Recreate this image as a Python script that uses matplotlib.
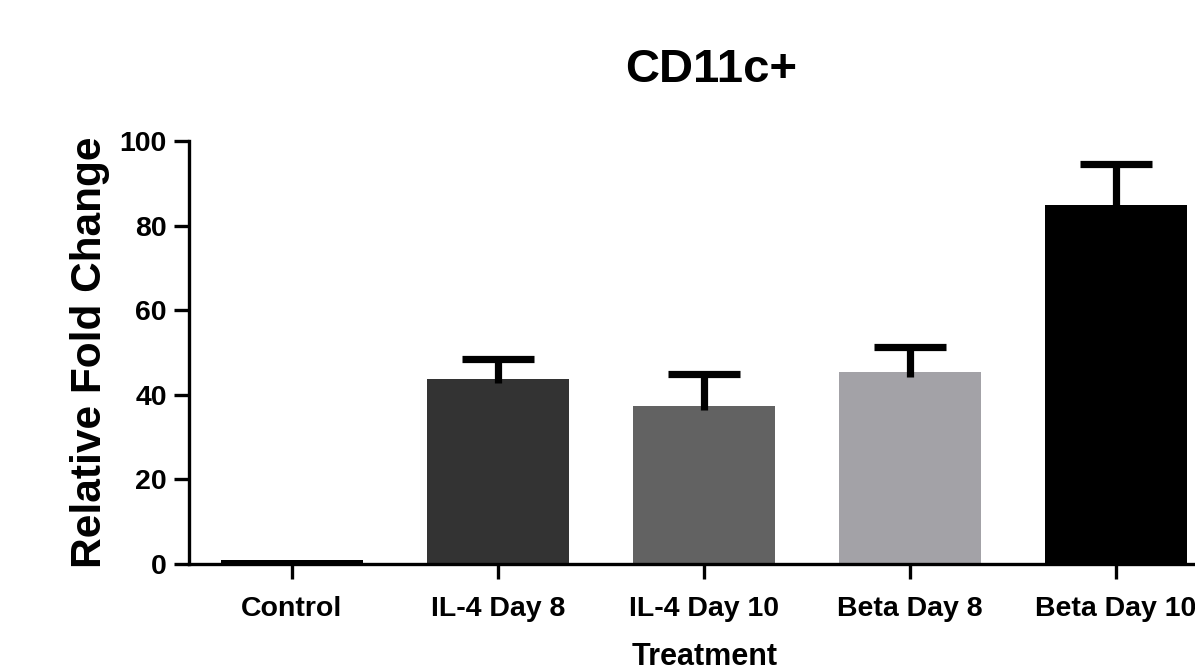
import matplotlib
matplotlib.use("Agg")
import matplotlib.pyplot as plt
import numpy as np

categories = ["Control", "IL-4 Day 8", "IL-4 Day 10", "Beta Day 8", "Beta Day 10"]
values = [1.0, 43.8, 37.4, 45.3, 84.9]
errors_upper = [0.0, 4.6, 7.4, 6.1, 9.6]
colors = ["#000000", "#333333", "#626262", "#a3a2a7", "#000000"]
yticks = [0, 20, 40, 60, 80, 100]

plt.rcParams['font.family'] = ['Liberation Sans', 'DejaVu Sans']

W, H = 1195, 671
fig = plt.figure(figsize=(W / 100, H / 100), dpi=100)
left, right, bottom, top = 189, 1195, 564, 141
ax = fig.add_axes([left / W, 1 - bottom / H, (right - left) / W, (bottom - top) / H])

x = np.arange(len(categories))
vals = np.array(values)
errs = np.array(errors_upper)
ax.bar(x, vals, width=0.685, color=colors, zorder=2)

mask = errs > 0
cap_half = 0.177
ax.vlines(x[mask], vals[mask] - 1.0, vals[mask] + errs[mask], colors='black',
          linewidth=5.2, zorder=3)
ax.hlines(vals[mask] + errs[mask], x[mask] - cap_half, x[mask] + cap_half,
          colors='black', linewidth=5.2, zorder=3)

ax.set_xlim(-0.5, -0.5 + (right - left) / 206)
ax.set_ylim(0, 100)
ax.set_yticks(yticks)
ax.set_xticks(x)
ax.set_xticklabels(categories)

for s in ['top', 'right']:
    ax.spines[s].set_visible(False)
for s in ['left', 'bottom']:
    ax.spines[s].set_linewidth(2.4)
    ax.spines[s].set_color('black')

ax.tick_params(axis='both', length=11, width=2.4, color='black')
ax.tick_params(axis='y', pad=5, labelsize=20.5)
ax.tick_params(axis='x', pad=12, labelsize=20.5)
for lab in ax.get_xticklabels() + ax.get_yticklabels():
    lab.set_fontweight('bold')

ax.set_ylabel("Relative Fold Change", fontsize=30.5, fontweight='bold', labelpad=7)
ax.set_xlabel("Treatment", fontsize=22, fontweight='bold')
ax.xaxis.set_label_coords((705 - left) / (right - left), -(642 - bottom) / (bottom - top),
                          transform=ax.transAxes)
ax.xaxis.label.set_va('top')

fig.text(711 / W, 1 - 70 / H, "CD11c+", fontsize=34, fontweight='bold',
         ha='center', va='center')

fig.savefig("out.png", dpi=100)
